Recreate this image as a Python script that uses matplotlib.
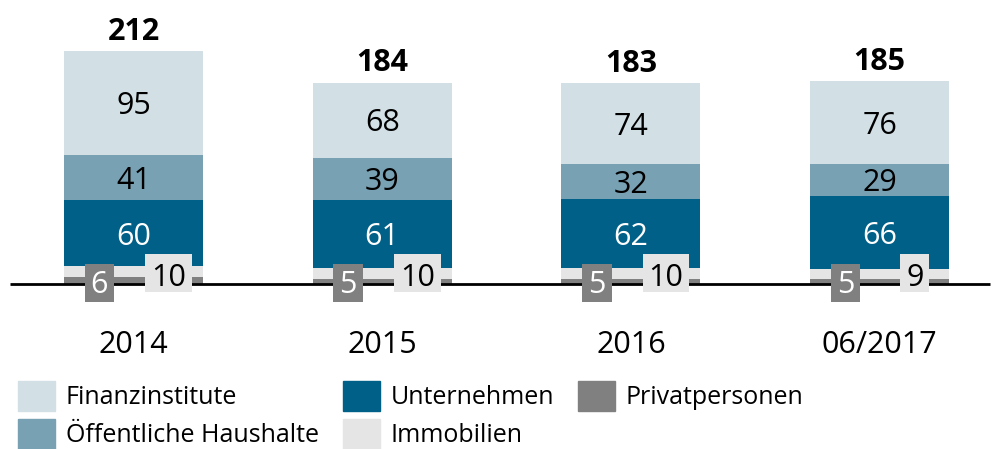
import matplotlib.pyplot as plt
from matplotlib.patches import Patch

plt.rcParams['font.family'] = ['Open Sans', 'DejaVu Sans']

# data
years = ['2014', '2015', '2016', '06/2017']
privat = [6, 5, 5, 5]
immobilien = [10, 10, 10, 9]
unternehmen = [60, 61, 62, 66]
oeffentlich = [41, 39, 32, 29]
finanz = [95, 68, 74, 76]
totals = [212, 184, 183, 185]

c_finanz = '#d2dfe5'
c_oeff = '#78a1b3'
c_unt = '#006087'
c_priv = '#808080'
c_immo = '#e5e5e5'

fig = plt.figure(figsize=(9.99, 4.49), dpi=100)
ax = fig.add_axes([0, 0, 1, 1])
ax.set_xlim(-0.537, 3.48)
ax.set_ylim(-150, 258.2)
ax.axis('off')

x = list(range(len(years)))
w = 0.559
fs = 22
dy = -3  # nudge so digits sit visually centred

bottom = [0] * 4
for vals, col in [(privat, c_priv), (immobilien, c_immo), (unternehmen, c_unt),
                  (oeffentlich, c_oeff), (finanz, c_finanz)]:
    ax.bar(x, vals, w, bottom=bottom, color=col, linewidth=0, zorder=2)
    bottom = [b + v for b, v in zip(bottom, vals)]

# baseline
ax.plot([-0.497, 3.444], [0, 0], color='black', lw=2, zorder=3, solid_capstyle='butt')

for i in x:
    b1 = privat[i] + immobilien[i]
    b2 = b1 + unternehmen[i]
    b3 = b2 + oeffentlich[i]
    ax.text(i, b1 + unternehmen[i] / 2 + dy, str(unternehmen[i]), ha='center', va='center',
            fontsize=fs, color='white', zorder=4)
    ax.text(i, b2 + oeffentlich[i] / 2 + dy, str(oeffentlich[i]), ha='center', va='center',
            fontsize=fs, color='black', zorder=4)
    ax.text(i, b3 + finanz[i] / 2 + dy, str(finanz[i]), ha='center', va='center',
            fontsize=fs, color='black', zorder=4)
    ax.text(i, totals[i] + 20 + dy, str(totals[i]), ha='center', va='center',
            fontsize=fs, fontweight='bold', color='black', zorder=4)

    # small value boxes below/at the baseline
    sp, si = str(privat[i]), str(immobilien[i])
    wp = (12 + 17.5 * len(sp)) / 248.7
    wi = (12 + 17.5 * len(si)) / 248.7
    ax.bar(i - 0.137, 34.5, wp, bottom=-16, color=c_priv, linewidth=0, zorder=5)
    ax.bar(i + 0.141, 34.5, wi, bottom=-7.5, color=c_immo, linewidth=0, zorder=5)
    ax.text(i - 0.137, 1.8 + dy, sp, ha='center', va='center', fontsize=fs,
            color='white', zorder=6)
    ax.text(i + 0.141, 8.5 + dy, si, ha='center', va='center', fontsize=fs,
            color='black', zorder=6)

    ax.text(i, -52 + dy, years[i], ha='center', va='center', fontsize=fs, color='black')

handles = [Patch(color=c_finanz, label='Finanzinstitute'),
           Patch(color=c_oeff, label='Öffentliche Haushalte'),
           Patch(color=c_unt, label='Unternehmen'),
           Patch(color=c_immo, label='Immobilien'),
           Patch(color=c_priv, label='Privatpersonen')]
fig.legend(handles=handles, ncol=3, loc='upper left', bbox_to_anchor=(0.018, 0.151),
           frameon=False, fontsize=18, handlelength=1.5, handleheight=1.45,
           handletextpad=0.42, columnspacing=0.95, labelspacing=0.33, borderpad=0,
           borderaxespad=0)

fig.savefig('out.png', dpi=100)
